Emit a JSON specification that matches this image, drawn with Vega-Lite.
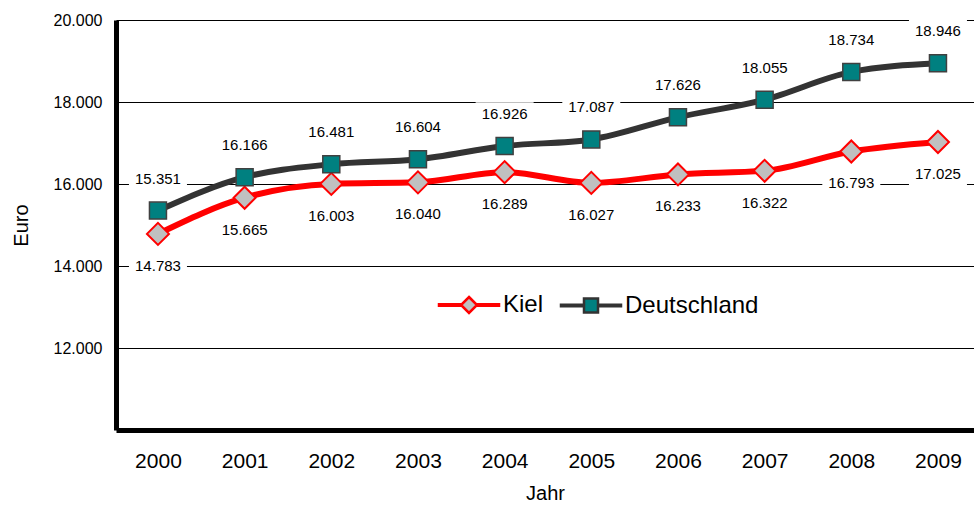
{
  "$schema": "https://vega.github.io/schema/vega-lite/v6.json",
  "width": 858,
  "height": 410,
  "autosize": {"type": "none"},
  "padding": {"left": 116, "top": 20, "right": 0, "bottom": 76},
  "background": "white",
  "config": {
    "locale": {"number": {"decimal": ",", "thousands": ".", "grouping": [3], "currency": ["", " €"]}},
    "font": "Liberation Sans",
    "view": {"stroke": null},
    "legend": {
      "labelFontSize": 24,
      "labelColor": "black",
      "labelFont": "Liberation Sans",
      "symbolSize": 256,
      "symbolStrokeWidth": 2.5,
      "labelOffset": 22,
      "symbolOffset": 21,
      "columnPadding": 12,
      "padding": 0,
      "labelLimit": 400
    }
  },
  "data": {
    "values": [
      {"year": "2000", "series": "Kiel", "value": 14783},
      {"year": "2001", "series": "Kiel", "value": 15665},
      {"year": "2002", "series": "Kiel", "value": 16003},
      {"year": "2003", "series": "Kiel", "value": 16040},
      {"year": "2004", "series": "Kiel", "value": 16289},
      {"year": "2005", "series": "Kiel", "value": 16027},
      {"year": "2006", "series": "Kiel", "value": 16233},
      {"year": "2007", "series": "Kiel", "value": 16322},
      {"year": "2008", "series": "Kiel", "value": 16793},
      {"year": "2009", "series": "Kiel", "value": 17025},
      {"year": "2000", "series": "Deutschland", "value": 15351},
      {"year": "2001", "series": "Deutschland", "value": 16166},
      {"year": "2002", "series": "Deutschland", "value": 16481},
      {"year": "2003", "series": "Deutschland", "value": 16604},
      {"year": "2004", "series": "Deutschland", "value": 16926},
      {"year": "2005", "series": "Deutschland", "value": 17087},
      {"year": "2006", "series": "Deutschland", "value": 17626},
      {"year": "2007", "series": "Deutschland", "value": 18055},
      {"year": "2008", "series": "Deutschland", "value": 18734},
      {"year": "2009", "series": "Deutschland", "value": 18946}
    ]
  },
  "encoding": {
    "x": {
      "field": "year",
      "type": "ordinal",
      "scale": {"type": "point", "padding": 0.45, "align": 0.538},
      "axis": {
        "title": "Jahr",
        "labelAngle": 0,
        "ticks": false,
        "grid": false,
        "domainWidth": 5,
        "domainColor": "black",
        "labelFontSize": 21,
        "labelColor": "black",
        "labelPadding": 20,
        "titleFontSize": 20,
        "titleFontWeight": "normal",
        "titleColor": "black",
        "titlePadding": 12
      }
    },
    "y": {
      "field": "value",
      "type": "quantitative",
      "scale": {"domain": [10000, 20000], "nice": false, "zero": false},
      "axis": {
        "title": "Euro",
        "values": [12000, 14000, 16000, 18000, 20000],
        "format": ",d",
        "grid": true,
        "gridColor": "black",
        "gridWidth": 1,
        "gridOpacity": 1,
        "ticks": false,
        "domainWidth": 5,
        "domainColor": "black",
        "labelFontSize": 16,
        "labelColor": "black",
        "labelPadding": 14,
        "titleFontSize": 20,
        "titleFontWeight": "normal",
        "titleColor": "black",
        "titlePadding": 22
      }
    }
  },
  "layer": [
    {
      "transform": [{"filter": "false"}],
      "mark": {"type": "point", "filled": true, "opacity": 1, "size": 256},
      "encoding": {
        "fill": {"field": "series", "type": "nominal",
          "scale": {"domain": ["Kiel", "Deutschland"], "range": ["#C0C0C0", "#008080"]},
          "legend": {"title": null, "orient": "none", "legendX": 320, "legendY": 273, "direction": "horizontal"}},
        "stroke": {"field": "series", "type": "nominal",
          "scale": {"domain": ["Kiel", "Deutschland"], "range": ["#FF0000", "#333333"]},
          "legend": {"title": null, "orient": "none", "legendX": 320, "legendY": 273, "direction": "horizontal"}},
        "shape": {"field": "series", "type": "nominal",
          "scale": {"domain": ["Kiel", "Deutschland"], "range": [
            "M-3.75,-0.094H-1V0.094H-3.75Z M1,-0.094H3.75V0.094H1Z M0,-1L1,0L0,1L-1,0Z",
            "M-3.75,-0.094H-0.875V0.094H-3.75Z M0.875,-0.094H3.75V0.094H0.875Z M-0.875,-0.875H0.875V0.875H-0.875Z"
          ]},
          "legend": {"title": null, "orient": "none", "legendX": 320, "legendY": 273, "direction": "horizontal"}}
      }
    },
    {
      "transform": [{"filter": "datum.series === 'Kiel'"}],
      "mark": {"type": "point", "filled": true, "fill": "white", "strokeWidth": 0, "opacity": 1, "size": 3364, "shape": "M-1,-0.41H1V0.41H-1Z", "yOffset": 32}
    },
    {
      "transform": [{"filter": "datum.series === 'Deutschland'"}],
      "mark": {"type": "point", "filled": true, "fill": "white", "strokeWidth": 0, "opacity": 1, "size": 3364, "shape": "M-1,-0.41H1V0.41H-1Z", "yOffset": -32}
    },
    {
      "mark": {"type": "line", "interpolate": "monotone", "strokeWidth": 6, "strokeCap": "round", "strokeJoin": "round"},
      "encoding": {
        "stroke": {"field": "series", "type": "nominal",
          "scale": {"domain": ["Kiel", "Deutschland"], "range": ["#FF0000", "#333333"]},
          "legend": {"title": null, "orient": "none", "legendX": 320, "legendY": 273, "direction": "horizontal"}}
      }
    },
    {
      "transform": [{"filter": "datum.series === 'Kiel'"}],
      "mark": {"type": "point", "shape": "diamond", "filled": true, "fill": "#C0C0C0", "stroke": "#FF0000", "strokeWidth": 2, "opacity": 1, "size": 484}
    },
    {
      "transform": [{"filter": "datum.series === 'Deutschland'"}],
      "mark": {"type": "point", "shape": "square", "filled": true, "fill": "#008080", "stroke": "#404040", "strokeWidth": 1.5, "opacity": 1, "size": 289}
    },
    {
      "transform": [{"filter": "datum.series === 'Kiel'"}],
      "mark": {"type": "text", "fontSize": 15, "color": "black", "dy": 32, "baseline": "middle", "align": "center"},
      "encoding": {"text": {"field": "value", "type": "quantitative", "format": ",d"}}
    },
    {
      "transform": [{"filter": "datum.series === 'Deutschland'"}],
      "mark": {"type": "text", "fontSize": 15, "color": "black", "dy": -32, "baseline": "middle", "align": "center"},
      "encoding": {"text": {"field": "value", "type": "quantitative", "format": ",d"}}
    }
  ]
}
